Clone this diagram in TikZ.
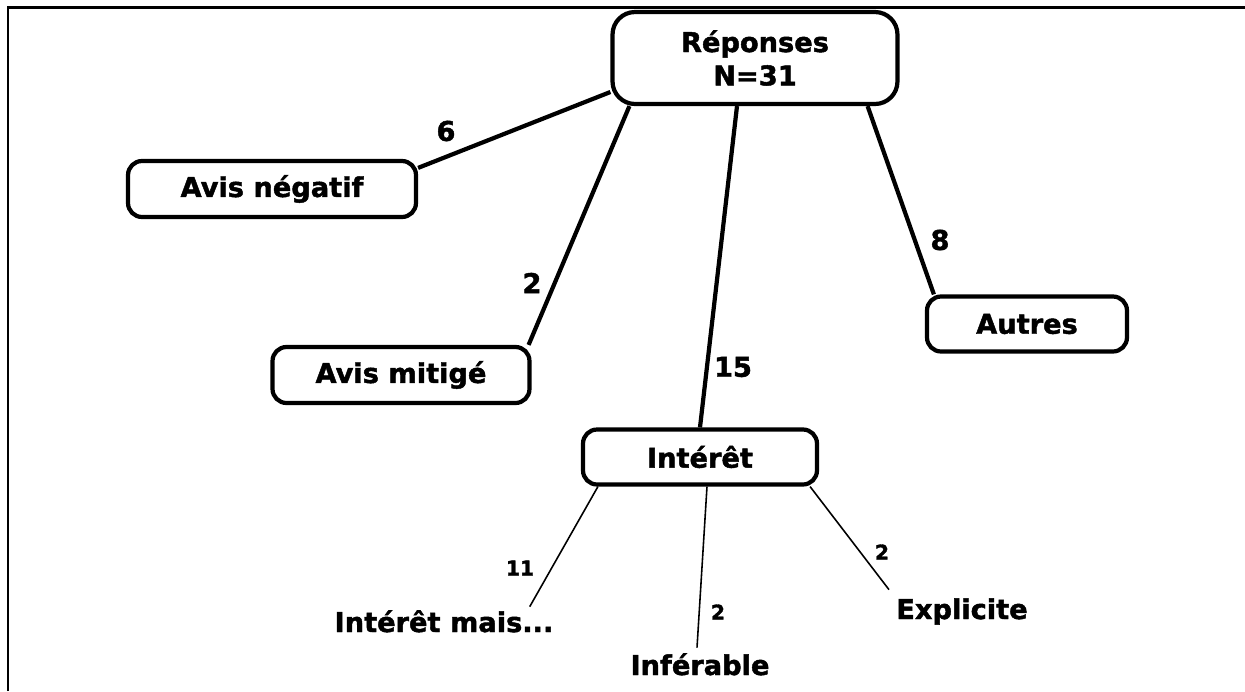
\documentclass[tikz,border=0pt]{standalone}
\usepackage{fontspec}
\setmainfont{DejaVu Sans}[BoldFont={DejaVu Sans Bold},BoldFeatures={FakeBold=1.6}]
\begin{document}
\begin{tikzpicture}[x=0.02cm,y=-0.02cm,
  box/.style={draw=black,line width=2.4pt,rounded corners=0.28cm,align=center,
    font=\fontsize{15.5}{19}\selectfont\bfseries,inner sep=0pt},
  leaf/.style={font=\fontsize{15.5}{19}\selectfont\bfseries,inner sep=0pt,
    anchor=base,text height=0.4cm,text depth=0pt},
  big/.style={font=\fontsize{15.5}{19}\selectfont\bfseries,inner sep=0pt},
  small/.style={font=\fontsize{11.5}{13}\selectfont\bfseries,inner sep=0pt},
  thick link/.style={line width=2.4pt},
  thin link/.style={line width=0.9pt}]
\useasboundingbox (0,0) rectangle (1245,691);
\fill[white] (0,0) rectangle (1245,691);
% frame
\draw[line width=1.7pt] (8,691) -- (8,7) -- (1245,7);
% nodes
\node[box,rounded corners=0.45cm,minimum width=5.7cm,minimum height=1.84cm] (rep) at (755,58) {Réponses\\N=31};
\node[box,minimum width=5.76cm,minimum height=1.12cm] (neg) at (272,189) {Avis négatif};
\node[box,minimum width=5.14cm,minimum height=1.12cm] (mit) at (401,375) {Avis mitigé};
\node[box,minimum width=4.0cm,minimum height=1.1cm] (aut) at (1027,324) {Autres};
\node[box,minimum width=4.68cm,minimum height=1.1cm] (int) at (700,457) {Intérêt};
\node[leaf] (mais) at (444,632) {Intérêt mais...};
\node[leaf] (inf) at (700,675) {Inférable};
\node[leaf] (exp) at (962,619) {Explicite};
% connectors
\draw[thick link] ([yshift=-0.68cm]rep.west) -- ([yshift=-0.18cm]neg.north east);
\draw[thick link] ([xshift=0.38cm]rep.south west) -- ([xshift=-0.06cm]mit.north east);
\draw[thick link] ([xshift=-0.36cm]rep.south) -- (int.north);
\draw[thick link] ([xshift=-0.64cm]rep.south east) -- ([xshift=0.18cm]aut.north west);
\draw[thin link] ([xshift=0.34cm]int.south west) -- ([xshift=-0.48cm,yshift=0.1cm]mais.north east);
\draw[thin link] ([xshift=0.14cm]int.south) -- ([xshift=-0.06cm,yshift=0.14cm]inf.north);
\draw[thin link] ([xshift=-0.18cm]int.south east) -- ([xshift=-0.14cm,yshift=0.18cm]exp.north west);
% labels
\node[big] (l6) at (446,131) {6};
\node[big] (l2a) at (532,283) {2};
\node[big] (l15) at (733,367) {15};
\node[big] (l8) at (940,240) {8};
\node[small] (l11) at (520,568) {11};
\node[small] (l2b) at (718,612) {2};
\node[small] (l2c) at (882,552) {2};
\end{tikzpicture}
\end{document}
